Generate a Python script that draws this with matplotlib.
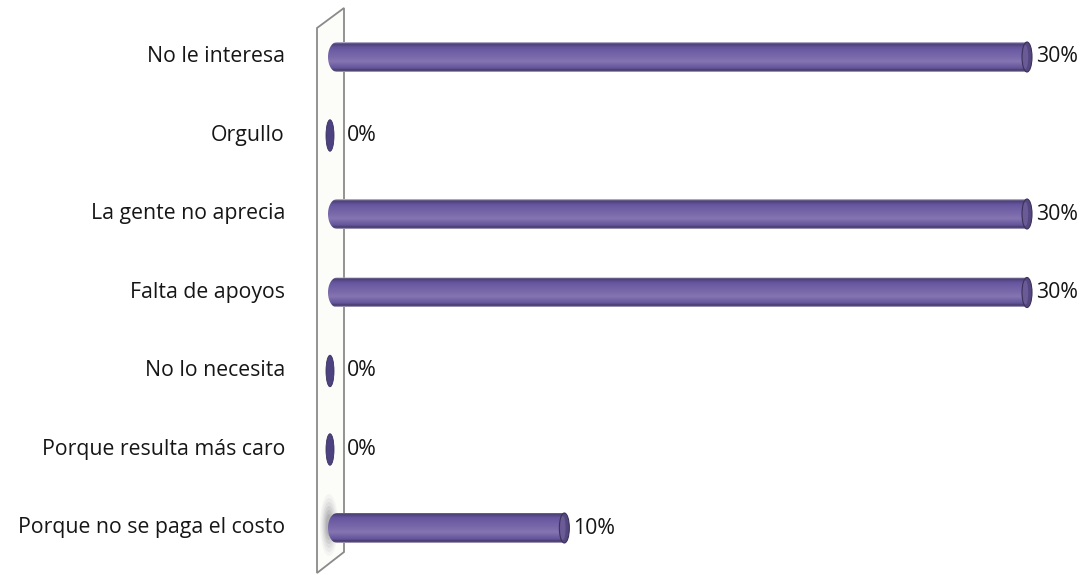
import numpy as np
import matplotlib.pyplot as plt
from matplotlib.patches import Ellipse, Polygon
from matplotlib.colors import LinearSegmentedColormap

plt.rcParams['font.family'] = ['Open Sans', 'DejaVu Sans']

# razones y porcentajes
razones = ["No le interesa", "Orgullo", "La gente no aprecia", "Falta de apoyos",
           "No lo necesita", "Porque resulta más caro", "Porque no se paga el costo"]
valores = [30, 0, 30, 30, 0, 0, 10]
etiquetas = ["30%", "0%", "30%", "30%", "0%", "0%", "10%"]

W, H = 1085, 575
fig = plt.figure(figsize=(W / 100, H / 100), dpi=100)
fig.patch.set_facecolor("white")

# ejes: 0..30 entre x=333 y x=1027 px (con margen a la izquierda del cero),
# categorias cada 78.5 px
x0, x1 = 333, 1027
escala = (x1 - x0) / 30
xmin = -2
ytop, paso = 57, 78.5
ax = fig.add_axes([(x0 + xmin * escala) / W, (H - (ytop + 6.5 * paso)) / H,
                   (x1 - x0 - xmin * escala) / W, 7 * paso / H])
ax.set_xlim(xmin, 30)
ax.set_ylim(6.5, -0.5)
ax.set_autoscale_on(False)
ax.axis("off")

px = 1 / escala          # unidades x por pixel
py = 7 / (7 * paso)      # unidades y por pixel

# pared lateral (eje en perspectiva)
pared = [(-16 * px, -29 * py), (11 * px, -49 * py),
         (11 * px, 495 * py), (-16 * px, 516 * py)]
ax.add_patch(Polygon(pared, closed=True, facecolor="#fcfcf9", edgecolor="#8a8a8a",
                     lw=1.3, clip_on=False, zorder=1))
# sombra difusa al pie
for k, a in enumerate([0.05, 0.07, 0.09, 0.12, 0.15, 0.18]):
    ax.add_patch(Ellipse((-4 * px, 6 - 3 * py), (18 - 2.4 * k) * px, (62 - 8 * k) * py,
                         facecolor="#707078", edgecolor="none", alpha=a,
                         clip_on=False, zorder=1.5))

cmap = LinearSegmentedColormap.from_list(
    "cil", [(0, "#c9c2dc"), (0.05, "#4a3f72"), (0.18, "#6656a0"), (0.5, "#7b6aaa"),
            (0.65, "#8575b2"), (0.88, "#62549a"), (0.96, "#3f355f"), (1, "#b8b0cc")])
grad = np.linspace(0, 1, 64).reshape(-1, 1)

alto = 30 * py
tapa = 5 * px
curva = 9 * px
izq = -5 * px
t = np.linspace(np.pi / 2, 3 * np.pi / 2, 40)
for i, v in enumerate(valores):
    if v > 0:
        # silueta del cilindro: extremo izquierdo redondeado y cuerpo hasta v
        cx = izq + curva
        arco = np.column_stack([cx + curva * np.cos(t), i - alto / 2 * np.sin(t)])
        contorno = np.vstack([[[v, i - alto / 2]], arco, [[v, i + alto / 2]]])
        silueta = Polygon(contorno, closed=True, facecolor="none", edgecolor="none",
                          transform=ax.transData)
        ax.add_patch(silueta)
        im = ax.imshow(grad, cmap=cmap, aspect="auto",
                       extent=(izq, v, i + alto / 2, i - alto / 2),
                       interpolation="bilinear", zorder=3)
        im.set_clip_path(silueta)
        # tapa derecha
        ax.add_patch(Ellipse((v, i), 2 * tapa, alto, facecolor="#54477f",
                             edgecolor="#3c3259", lw=0.8, zorder=4, clip_on=False))
        ax.add_patch(Ellipse((v - 0.3 * tapa, i), 1.1 * tapa, alto * 0.8, facecolor="#6a5b97",
                             edgecolor="none", zorder=4.1, clip_on=False))
        dx = 9
    else:
        ax.add_patch(Ellipse((-3 * px, i), 8 * px, 1.05 * alto, facecolor="#4c4280",
                             edgecolor="#3a3160", lw=0.6, zorder=4, clip_on=False))
        dx = 14
    ax.annotate(etiquetas[i], (v, i), xytext=(dx * 0.72, 0), textcoords="offset points",
                ha="left", va="center", fontsize=15.3, color="#161616", annotation_clip=False)
    ax.text(-48 * px, i, razones[i], ha="right", va="center", fontsize=15.3,
            color="#161616", clip_on=False)

fig.savefig("out.png", dpi=100, facecolor="white")
